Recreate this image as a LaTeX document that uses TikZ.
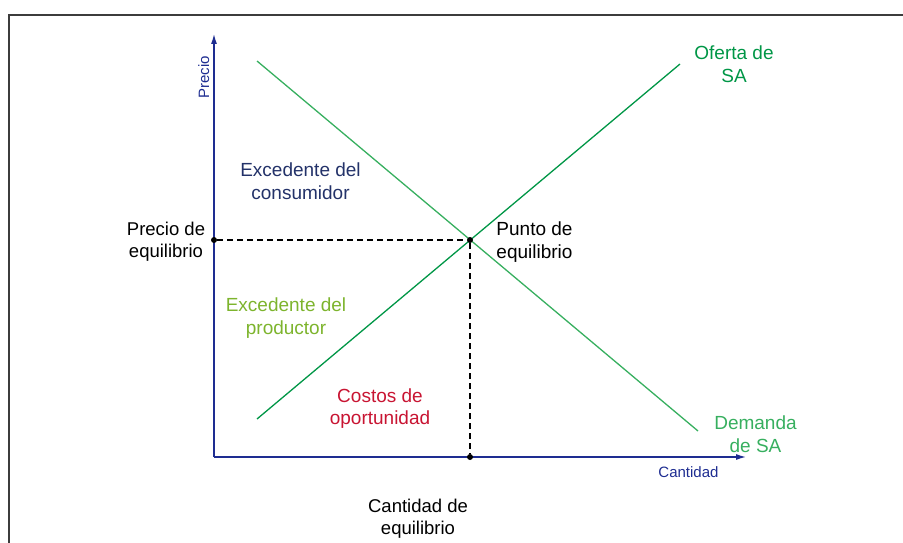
\documentclass[tikz,border=0pt]{standalone}
\usepackage{fontspec}
\setmainfont{Liberation Sans}
\usetikzlibrary{arrows.meta}
\definecolor{supplyg}{RGB}{0,150,70}
\definecolor{demandg}{RGB}{55,175,95}
\definecolor{prodg}{RGB}{125,180,45}
\definecolor{costr}{RGB}{200,20,50}
\definecolor{navy}{RGB}{35,50,105}
\definecolor{axisb}{RGB}{30,45,145}
\definecolor{frameg}{RGB}{60,60,60}
\tikzset{
  axisline/.style={draw=axisb, line width=1.2pt, -{Latex[length=10pt,width=6pt]}},
  curve/.style={line width=1.3pt},
  dashline/.style={draw=black, line width=1.2pt, dash pattern=on 6pt off 4pt},
  dotmark/.style={circle, fill=black, inner sep=0pt, minimum size=6pt},
  biglabel/.style={font=\fontsize{19}{22.5}\selectfont, align=center, inner sep=0pt, anchor=base},
  blacklabel/.style={font=\fontsize{18.5}{21.5}\selectfont, align=center, inner sep=0pt, anchor=base},
  axlabel/.style={font=\fontsize{15}{18}\selectfont, text=axisb, inner sep=0pt, anchor=base}
}
\begin{document}
\begin{tikzpicture}[x=1pt,y=-1pt]
\useasboundingbox (0,0) rectangle (903,543);
% frame
\draw[frameg, line width=1.8pt] (9.3,543) -- (9.3,15) -- (903,15);
% coordinates
\coordinate (O) at (214,457);
\coordinate (Ytop) at (214,34);
\coordinate (Xend) at (746,457);
\coordinate (D1) at (257,61);
\coordinate (D2) at (698,431);
\coordinate (S1) at (257,419);
\coordinate (S2) at (680,64);
% axes
\draw[axisline] (O) -- (Ytop);
\draw[axisline] (O) -- (Xend);
% curves
\draw[curve, demandg] (D1) -- (D2);
\draw[curve, supplyg] (S1) -- (S2);
% equilibrium
\node[dotmark] (E) at (470,240) {};
\node[dotmark] (Py) at (214,240) {};
\node[dotmark] (Qx) at (470,457) {};
\draw[dashline] (Py) -- (E);
\draw[dashline] (E) -- (Qx);
% labels (anchor = baseline of last line)
\node[axlabel, rotate=90] (precio) at (209,77.5) {Precio};
\node[axlabel] (cantidad) at (688.5,477) {Cantidad};
\node[blacklabel] (peq) at (166,257) {Precio de\\equilibrio};
\node[biglabel] (punto) at (534.5,258) {Punto de\\equilibrio};
\node[blacklabel] (ceq) at (418,534) {Cantidad de\\equilibrio};
\node[biglabel, text=navy] (econs) at (300.5,199) {Excedente del\\consumidor};
\node[biglabel, text=prodg] (eprod) at (286,334) {Excedente del\\productor};
\node[biglabel, text=costr] (costos) at (380,424.5) {Costos de\\oportunidad};
\node[biglabel, text=supplyg] (oferta) at (734,82) {Oferta de\\SA};
\node[biglabel, text=demandg] (demanda) at (755.5,452) {Demanda\\de SA};
\end{tikzpicture}
\end{document}
